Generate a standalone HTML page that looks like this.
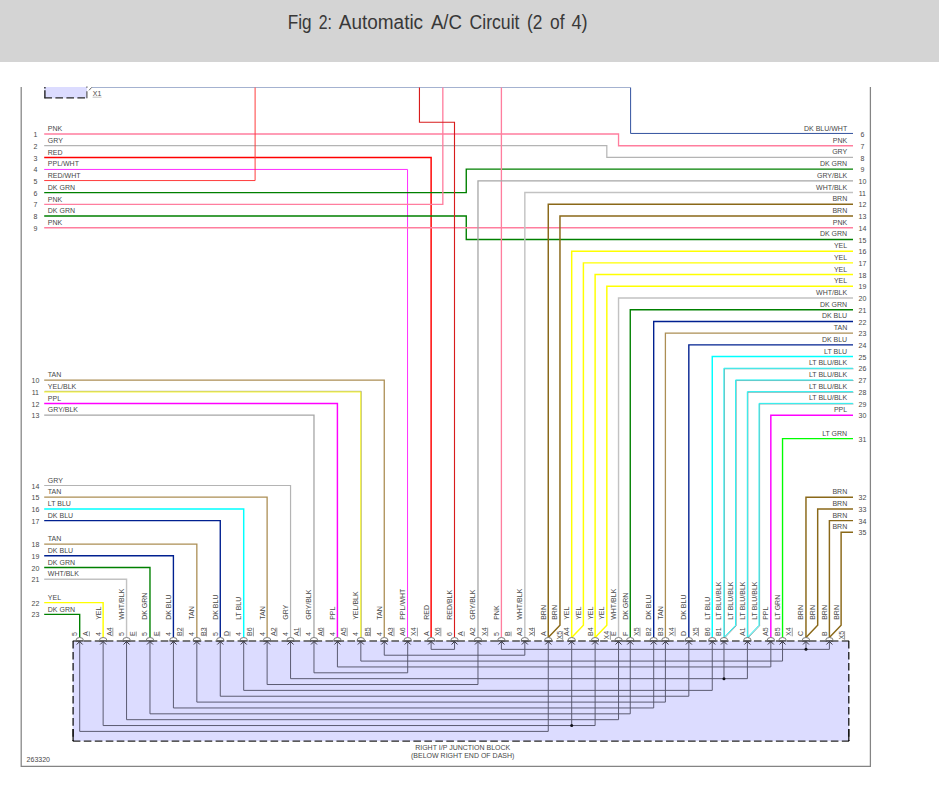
<!DOCTYPE html>
<html><head><meta charset="utf-8"><title>Fig 2: Automatic A/C Circuit (2 of 4)</title>
<style>
html,body{margin:0;padding:0;background:#fff;}
body{width:939px;height:795px;overflow:hidden;position:relative;font-family:"Liberation Sans",sans-serif;}
#hdr{position:absolute;left:0;top:0;width:939px;height:61.5px;background:#d4d4d4;}
#ttl{position:absolute;left:0;top:0;width:939px;text-align:center;}
svg{position:absolute;left:0;top:0;}
.t{font-family:"Liberation Sans",sans-serif;font-size:7px;fill:#484848;}
.h{font-family:"Liberation Sans",sans-serif;font-size:20px;fill:#383838;}
</style></head><body>
<div id="hdr"></div>
<svg width="939" height="795" viewBox="0 0 939 795">
<text y="29.0" class="h"><tspan x="287.7" textLength="23.8" lengthAdjust="spacingAndGlyphs">Fig</tspan><tspan x="318.8" textLength="13.2" lengthAdjust="spacingAndGlyphs">2:</tspan><tspan x="338.8" textLength="84.3" lengthAdjust="spacingAndGlyphs">Automatic</tspan><tspan x="430.9" textLength="31.1" lengthAdjust="spacingAndGlyphs">A/C</tspan><tspan x="469.5" textLength="50" lengthAdjust="spacingAndGlyphs">Circuit</tspan><tspan x="527.1" textLength="15.4" lengthAdjust="spacingAndGlyphs">(2</tspan><tspan x="550.1" textLength="14.5" lengthAdjust="spacingAndGlyphs">of</tspan><tspan x="571.4" textLength="16.2" lengthAdjust="spacingAndGlyphs">4)</tspan></text>
<!-- frame -->
<path d="M21.2 87.0V766.3H870.4V87.0" fill="none" stroke="#848484" stroke-width="1.25"/>
<path d="M91.8 87.5H630.26" stroke="#a4b2d0" stroke-width="1" fill="none"/>
<!-- top small box -->
<rect x="44.4" y="87" width="42.6" height="11.3" fill="#dcdcff"/>
<path d="M44.9 87V98.3" stroke="#141414" stroke-width="1.3" stroke-dasharray="1.6 1.6 20" fill="none"/>
<path d="M44.4 97.8H87" stroke="#2a2a2a" stroke-width="1.3" stroke-dasharray="7.6 3.4" fill="none"/>
<path d="M86.9 86.6V98.3" stroke="#5a5a5a" stroke-width="1.2" stroke-dasharray="1.2 3.4 20" fill="none"/>
<path d="M89 90.3L91.8 87.3" stroke="#555" stroke-width="0.9" fill="none"/>
<text x="92.8" y="95.9" class="t">X1</text>
<path d="M92.6 97.2H101.6" stroke="#b8b8b8" stroke-width="0.9"/>
<!-- junction block -->
<rect x="72.8" y="640.9" width="776.3" height="100.2" fill="#dcdcff"/>
<path d="M79.7 640.9V731.4H548.26V640.9" stroke="#54546a" stroke-width="0.95" fill="none"/>
<path d="M103.13 640.9V725.54H571.69V640.9" stroke="#54546a" stroke-width="0.95" fill="none"/>
<path d="M126.56 640.9V719.68H618.54V640.9" stroke="#54546a" stroke-width="0.95" fill="none"/>
<path d="M149.98 640.9V713.82H630.26V640.9" stroke="#54546a" stroke-width="0.95" fill="none"/>
<path d="M173.41 640.9V707.96H653.69V640.9" stroke="#54546a" stroke-width="0.95" fill="none"/>
<path d="M196.84 640.9V702.1H665.4V640.9" stroke="#54546a" stroke-width="0.95" fill="none"/>
<path d="M220.27 640.9V696.24H688.83V640.9" stroke="#54546a" stroke-width="0.95" fill="none"/>
<path d="M243.7 640.9V690.38H712.26V640.9" stroke="#54546a" stroke-width="0.95" fill="none"/>
<path d="M267.12 640.9V684.52H477.98V640.9" stroke="#54546a" stroke-width="0.95" fill="none"/>
<path d="M290.55 640.9V678.66H723.97V640.9" stroke="#54546a" stroke-width="0.95" fill="none"/>
<path d="M313.98 640.9V672.8H407.69V640.9" stroke="#54546a" stroke-width="0.95" fill="none"/>
<path d="M337.41 640.9V666.94H770.83V640.9" stroke="#54546a" stroke-width="0.95" fill="none"/>
<path d="M360.84 640.9V661.08H782.54V640.9" stroke="#54546a" stroke-width="0.95" fill="none"/>
<path d="M384.26 640.9V655.22H524.83V640.9" stroke="#54546a" stroke-width="0.95" fill="none"/>
<path d="M431.12 640.9V649.36H454.55V640.9" stroke="#54546a" stroke-width="0.95" fill="none"/>
<path d="M501.4 640.9V649.36H805.97V640.9" stroke="#54546a" stroke-width="0.95" fill="none"/>
<path d="M571.69 725.54H595.12V640.9" stroke="#54546a" stroke-width="0.95" fill="none"/>
<circle cx="571.69" cy="725.54" r="1.5" fill="#101018"/>
<path d="M723.97 678.66H747.4V640.9" stroke="#54546a" stroke-width="0.95" fill="none"/>
<circle cx="723.97" cy="678.66" r="1.5" fill="#101018"/>
<path d="M805.97 649.36H829.4V640.9" stroke="#54546a" stroke-width="0.95" fill="none"/>
<circle cx="805.97" cy="649.36" r="1.5" fill="#101018"/>
<path d="M72.8 640.9H849.1" stroke="#505050" stroke-width="1.5" stroke-dasharray="7.6 3.386" fill="none"/>
<path d="M72.8 741.1H849.1" stroke="#242424" stroke-width="1.35" stroke-dasharray="7.6 3.386" fill="none"/>
<path d="M73.1 640.9V741.1" stroke="#101010" stroke-width="1.25" stroke-dasharray="7.6 3.42" fill="none"/>
<path d="M848.8000000000001 640.9V741.1" stroke="#101010" stroke-width="1.25" stroke-dasharray="7.6 3.42" fill="none"/>
<path d="M73.1 729.1V741.1M848.8000000000001 729.1V741.1" stroke="#101010" stroke-width="1.25" fill="none"/>
<!-- wires -->
<path d="M44.2 134.0H618.54V145.72H853.0" stroke="#ff7e9e" stroke-width="1.33" fill="none" />
<path d="M44.2 145.72H606.83V157.43H853.0" stroke="#b4b4b4" stroke-width="1.2" fill="none" />
<path d="M44.2 157.43H431.12V637.6" stroke="#ff0000" stroke-width="1.46" fill="none" />
<path d="M44.2 169.45H407.55V637.6" stroke="#ff2cff" stroke-width="0.99" fill="none" />
<path d="M44.2 180.55H255.1V87.5" stroke="#ff3a3a" stroke-width="0.99" fill="none" />
<path d="M44.2 192.58H466.26V169.15H853.0" stroke="#008000" stroke-width="1.38" fill="none" />
<path d="M44.2 204.3H442.83V87.5" stroke="#ff7e9e" stroke-width="1.33" fill="none" />
<path d="M44.2 216.01H466.26V239.44H853.0" stroke="#008000" stroke-width="1.38" fill="none" />
<path d="M44.2 227.73H853.0" stroke="#ff7e9e" stroke-width="1.33" fill="none" />
<path d="M419.45 87.5V122.2H454.5V637.6" stroke="#d81c1c" stroke-width="1.12" fill="none" />
<path d="M501.4 87.5V637.6" stroke="#ff7e9e" stroke-width="1.33" fill="none" />
<path d="M630.6 87.5V133.45H853.0" stroke="#30509e" stroke-width="0.99" fill="none" />
<path d="M853.0 180.86H477.98V637.6" stroke="#a6a6a6" stroke-width="1.29" fill="none" />
<path d="M853.0 192.58H524.83V637.6" stroke="#c2c2c2" stroke-width="1.42" fill="none" />
<path d="M853.0 204.3H548.26V637.6" stroke="#8a6818" stroke-width="1.46" fill="none" />
<path d="M853.0 216.01H559.97V625.3L548.26 637.6" stroke="#8a6818" stroke-width="1.46" fill="none" />
<path d="M853.0 251.16H571.69V637.6" stroke="#ffff00" stroke-width="1.46" fill="none" />
<path d="M853.0 262.88H583.4V625.3L571.69 637.6" stroke="#ffff00" stroke-width="1.46" fill="none" />
<path d="M853.0 274.59H595.12V637.6" stroke="#ffff00" stroke-width="1.46" fill="none" />
<path d="M853.0 286.31H606.83V625.3L595.12 637.6" stroke="#ffff00" stroke-width="1.46" fill="none" />
<path d="M853.0 298.02H618.54V637.6" stroke="#c2c2c2" stroke-width="1.42" fill="none" />
<path d="M853.0 309.74H630.26V637.6" stroke="#008000" stroke-width="1.38" fill="none" />
<path d="M853.0 321.46H653.69V637.6" stroke="#002090" stroke-width="1.38" fill="none" />
<path d="M853.0 333.17H665.4V637.6" stroke="#ac8e54" stroke-width="1.29" fill="none" />
<path d="M853.0 344.89H688.83V637.6" stroke="#002090" stroke-width="1.38" fill="none" />
<path d="M853.0 356.6H712.26V637.6" stroke="#00ffff" stroke-width="1.46" fill="none" />
<path d="M853.0 368.32H723.97V637.6" stroke="#5c8c8c" stroke-width="0.7" fill="none" transform="translate(0.5 0.5)"/>
<path d="M853.0 368.32H723.97V637.6" stroke="#24f2f2" stroke-width="1.0" fill="none" transform="translate(-0.1 -0.1)"/>
<path d="M853.0 380.04H735.68V625.3L723.97 637.6" stroke="#5c8c8c" stroke-width="0.7" fill="none" transform="translate(0.5 0.5)"/>
<path d="M853.0 380.04H735.68V625.3L723.97 637.6" stroke="#24f2f2" stroke-width="1.0" fill="none" transform="translate(-0.1 -0.1)"/>
<path d="M853.0 391.75H747.4V637.6" stroke="#5c8c8c" stroke-width="0.7" fill="none" transform="translate(0.5 0.5)"/>
<path d="M853.0 391.75H747.4V637.6" stroke="#24f2f2" stroke-width="1.0" fill="none" transform="translate(-0.1 -0.1)"/>
<path d="M853.0 403.47H759.11V625.3L747.4 637.6" stroke="#5c8c8c" stroke-width="0.7" fill="none" transform="translate(0.5 0.5)"/>
<path d="M853.0 403.47H759.11V625.3L747.4 637.6" stroke="#24f2f2" stroke-width="1.0" fill="none" transform="translate(-0.1 -0.1)"/>
<path d="M853.0 415.18H770.83V637.6" stroke="#ff00ff" stroke-width="1.46" fill="none" />
<path d="M853.0 438.62H782.54V637.6" stroke="#00ff00" stroke-width="1.38" fill="none" />
<path d="M853.0 497.2H805.97V637.6" stroke="#8a6818" stroke-width="1.46" fill="none" />
<path d="M853.0 508.91H817.68V625.3L805.97 637.6" stroke="#8a6818" stroke-width="1.46" fill="none" />
<path d="M853.0 520.63H829.4V637.6" stroke="#8a6818" stroke-width="1.46" fill="none" />
<path d="M853.0 532.34H841.11V625.3L829.4 637.6" stroke="#8a6818" stroke-width="1.46" fill="none" />
<path d="M44.2 380.04H384.26V637.6" stroke="#ac8e54" stroke-width="1.29" fill="none" />
<path d="M44.2 391.75H360.84V637.6" stroke="#8c8c6c" stroke-width="0.7" fill="none" transform="translate(0.45 -0.45)"/>
<path d="M44.2 391.75H360.84V637.6" stroke="#f6f614" stroke-width="0.95" fill="none" transform="translate(-0.1 0.2)"/>
<path d="M44.2 403.47H337.41V637.6" stroke="#ff00ff" stroke-width="1.46" fill="none" />
<path d="M44.2 415.18H313.98V637.6" stroke="#a6a6a6" stroke-width="1.29" fill="none" />
<path d="M44.2 485.48H290.55V637.6" stroke="#b4b4b4" stroke-width="1.2" fill="none" />
<path d="M44.2 497.2H267.12V637.6" stroke="#ac8e54" stroke-width="1.29" fill="none" />
<path d="M44.2 508.91H243.7V637.6" stroke="#00ffff" stroke-width="1.46" fill="none" />
<path d="M44.2 520.63H220.27V637.6" stroke="#002090" stroke-width="1.38" fill="none" />
<path d="M44.2 544.06H196.84V637.6" stroke="#ac8e54" stroke-width="1.29" fill="none" />
<path d="M44.2 555.78H173.41V637.6" stroke="#002090" stroke-width="1.38" fill="none" />
<path d="M44.2 567.49H149.98V637.6" stroke="#008000" stroke-width="1.38" fill="none" />
<path d="M44.2 579.21H126.56V637.6" stroke="#c2c2c2" stroke-width="1.42" fill="none" />
<path d="M44.2 602.64H103.13V637.6" stroke="#ffff00" stroke-width="1.46" fill="none" />
<path d="M44.2 614.36H79.7V637.6" stroke="#008000" stroke-width="1.38" fill="none" />
<path d="M75.9 640.9A3.8 3.2 0 0 1 83.5 640.9Z" fill="#fff" stroke="none"/>
<path d="M75.8 640.9H83.6" fill="none" stroke="#484848" stroke-width="1.5"/>
<path d="M75.9 640.5A3.8 3.0 0 0 1 83.5 640.5" fill="none" stroke="#747474" stroke-width="0.95"/>
<path d="M76.7 644.5L79.7 641.5L82.7 644.5" fill="none" stroke="#34343e" stroke-width="1"/>
<path d="M99.33 640.9A3.8 3.2 0 0 1 106.93 640.9Z" fill="#fff" stroke="none"/>
<path d="M99.23 640.9H107.03" fill="none" stroke="#484848" stroke-width="1.5"/>
<path d="M99.33 640.5A3.8 3.0 0 0 1 106.93 640.5" fill="none" stroke="#747474" stroke-width="0.95"/>
<path d="M100.13 644.5L103.13 641.5L106.13 644.5" fill="none" stroke="#34343e" stroke-width="1"/>
<path d="M122.76 640.9A3.8 3.2 0 0 1 130.36 640.9Z" fill="#fff" stroke="none"/>
<path d="M122.66 640.9H130.46" fill="none" stroke="#484848" stroke-width="1.5"/>
<path d="M122.76 640.5A3.8 3.0 0 0 1 130.36 640.5" fill="none" stroke="#747474" stroke-width="0.95"/>
<path d="M123.56 644.5L126.56 641.5L129.56 644.5" fill="none" stroke="#34343e" stroke-width="1"/>
<path d="M146.18 640.9A3.8 3.2 0 0 1 153.78 640.9Z" fill="#fff" stroke="none"/>
<path d="M146.08 640.9H153.88" fill="none" stroke="#484848" stroke-width="1.5"/>
<path d="M146.18 640.5A3.8 3.0 0 0 1 153.78 640.5" fill="none" stroke="#747474" stroke-width="0.95"/>
<path d="M146.98 644.5L149.98 641.5L152.98 644.5" fill="none" stroke="#34343e" stroke-width="1"/>
<path d="M169.61 640.9A3.8 3.2 0 0 1 177.21 640.9Z" fill="#fff" stroke="none"/>
<path d="M169.51 640.9H177.31" fill="none" stroke="#484848" stroke-width="1.5"/>
<path d="M169.61 640.5A3.8 3.0 0 0 1 177.21 640.5" fill="none" stroke="#747474" stroke-width="0.95"/>
<path d="M170.41 644.5L173.41 641.5L176.41 644.5" fill="none" stroke="#34343e" stroke-width="1"/>
<path d="M193.04 640.9A3.8 3.2 0 0 1 200.64 640.9Z" fill="#fff" stroke="none"/>
<path d="M192.94 640.9H200.74" fill="none" stroke="#484848" stroke-width="1.5"/>
<path d="M193.04 640.5A3.8 3.0 0 0 1 200.64 640.5" fill="none" stroke="#747474" stroke-width="0.95"/>
<path d="M193.84 644.5L196.84 641.5L199.84 644.5" fill="none" stroke="#34343e" stroke-width="1"/>
<path d="M216.47 640.9A3.8 3.2 0 0 1 224.07 640.9Z" fill="#fff" stroke="none"/>
<path d="M216.37 640.9H224.17" fill="none" stroke="#484848" stroke-width="1.5"/>
<path d="M216.47 640.5A3.8 3.0 0 0 1 224.07 640.5" fill="none" stroke="#747474" stroke-width="0.95"/>
<path d="M217.27 644.5L220.27 641.5L223.27 644.5" fill="none" stroke="#34343e" stroke-width="1"/>
<path d="M239.9 640.9A3.8 3.2 0 0 1 247.5 640.9Z" fill="#fff" stroke="none"/>
<path d="M239.8 640.9H247.6" fill="none" stroke="#484848" stroke-width="1.5"/>
<path d="M239.9 640.5A3.8 3.0 0 0 1 247.5 640.5" fill="none" stroke="#747474" stroke-width="0.95"/>
<path d="M240.7 644.5L243.7 641.5L246.7 644.5" fill="none" stroke="#34343e" stroke-width="1"/>
<path d="M263.32 640.9A3.8 3.2 0 0 1 270.92 640.9Z" fill="#fff" stroke="none"/>
<path d="M263.22 640.9H271.02" fill="none" stroke="#484848" stroke-width="1.5"/>
<path d="M263.32 640.5A3.8 3.0 0 0 1 270.92 640.5" fill="none" stroke="#747474" stroke-width="0.95"/>
<path d="M264.12 644.5L267.12 641.5L270.12 644.5" fill="none" stroke="#34343e" stroke-width="1"/>
<path d="M286.75 640.9A3.8 3.2 0 0 1 294.35 640.9Z" fill="#fff" stroke="none"/>
<path d="M286.65 640.9H294.45" fill="none" stroke="#484848" stroke-width="1.5"/>
<path d="M286.75 640.5A3.8 3.0 0 0 1 294.35 640.5" fill="none" stroke="#747474" stroke-width="0.95"/>
<path d="M287.55 644.5L290.55 641.5L293.55 644.5" fill="none" stroke="#34343e" stroke-width="1"/>
<path d="M310.18 640.9A3.8 3.2 0 0 1 317.78 640.9Z" fill="#fff" stroke="none"/>
<path d="M310.08 640.9H317.88" fill="none" stroke="#484848" stroke-width="1.5"/>
<path d="M310.18 640.5A3.8 3.0 0 0 1 317.78 640.5" fill="none" stroke="#747474" stroke-width="0.95"/>
<path d="M310.98 644.5L313.98 641.5L316.98 644.5" fill="none" stroke="#34343e" stroke-width="1"/>
<path d="M333.61 640.9A3.8 3.2 0 0 1 341.21 640.9Z" fill="#fff" stroke="none"/>
<path d="M333.51 640.9H341.31" fill="none" stroke="#484848" stroke-width="1.5"/>
<path d="M333.61 640.5A3.8 3.0 0 0 1 341.21 640.5" fill="none" stroke="#747474" stroke-width="0.95"/>
<path d="M334.41 644.5L337.41 641.5L340.41 644.5" fill="none" stroke="#34343e" stroke-width="1"/>
<path d="M357.04 640.9A3.8 3.2 0 0 1 364.64 640.9Z" fill="#fff" stroke="none"/>
<path d="M356.94 640.9H364.74" fill="none" stroke="#484848" stroke-width="1.5"/>
<path d="M357.04 640.5A3.8 3.0 0 0 1 364.64 640.5" fill="none" stroke="#747474" stroke-width="0.95"/>
<path d="M357.84 644.5L360.84 641.5L363.84 644.5" fill="none" stroke="#34343e" stroke-width="1"/>
<path d="M380.46 640.9A3.8 3.2 0 0 1 388.06 640.9Z" fill="#fff" stroke="none"/>
<path d="M380.36 640.9H388.16" fill="none" stroke="#484848" stroke-width="1.5"/>
<path d="M380.46 640.5A3.8 3.0 0 0 1 388.06 640.5" fill="none" stroke="#747474" stroke-width="0.95"/>
<path d="M381.26 644.5L384.26 641.5L387.26 644.5" fill="none" stroke="#34343e" stroke-width="1"/>
<path d="M403.89 640.9A3.8 3.2 0 0 1 411.49 640.9Z" fill="#fff" stroke="none"/>
<path d="M403.79 640.9H411.59" fill="none" stroke="#484848" stroke-width="1.5"/>
<path d="M403.89 640.5A3.8 3.0 0 0 1 411.49 640.5" fill="none" stroke="#747474" stroke-width="0.95"/>
<path d="M404.69 644.5L407.69 641.5L410.69 644.5" fill="none" stroke="#34343e" stroke-width="1"/>
<path d="M427.32 640.9A3.8 3.2 0 0 1 434.92 640.9Z" fill="#fff" stroke="none"/>
<path d="M427.22 640.9H435.02" fill="none" stroke="#484848" stroke-width="1.5"/>
<path d="M427.32 640.5A3.8 3.0 0 0 1 434.92 640.5" fill="none" stroke="#747474" stroke-width="0.95"/>
<path d="M428.12 644.5L431.12 641.5L434.12 644.5" fill="none" stroke="#34343e" stroke-width="1"/>
<path d="M450.75 640.9A3.8 3.2 0 0 1 458.35 640.9Z" fill="#fff" stroke="none"/>
<path d="M450.65 640.9H458.45" fill="none" stroke="#484848" stroke-width="1.5"/>
<path d="M450.75 640.5A3.8 3.0 0 0 1 458.35 640.5" fill="none" stroke="#747474" stroke-width="0.95"/>
<path d="M451.55 644.5L454.55 641.5L457.55 644.5" fill="none" stroke="#34343e" stroke-width="1"/>
<path d="M474.18 640.9A3.8 3.2 0 0 1 481.78 640.9Z" fill="#fff" stroke="none"/>
<path d="M474.08 640.9H481.88" fill="none" stroke="#484848" stroke-width="1.5"/>
<path d="M474.18 640.5A3.8 3.0 0 0 1 481.78 640.5" fill="none" stroke="#747474" stroke-width="0.95"/>
<path d="M474.98 644.5L477.98 641.5L480.98 644.5" fill="none" stroke="#34343e" stroke-width="1"/>
<path d="M497.6 640.9A3.8 3.2 0 0 1 505.2 640.9Z" fill="#fff" stroke="none"/>
<path d="M497.5 640.9H505.3" fill="none" stroke="#484848" stroke-width="1.5"/>
<path d="M497.6 640.5A3.8 3.0 0 0 1 505.2 640.5" fill="none" stroke="#747474" stroke-width="0.95"/>
<path d="M498.4 644.5L501.4 641.5L504.4 644.5" fill="none" stroke="#34343e" stroke-width="1"/>
<path d="M521.03 640.9A3.8 3.2 0 0 1 528.63 640.9Z" fill="#fff" stroke="none"/>
<path d="M520.93 640.9H528.73" fill="none" stroke="#484848" stroke-width="1.5"/>
<path d="M521.03 640.5A3.8 3.0 0 0 1 528.63 640.5" fill="none" stroke="#747474" stroke-width="0.95"/>
<path d="M521.83 644.5L524.83 641.5L527.83 644.5" fill="none" stroke="#34343e" stroke-width="1"/>
<path d="M544.46 640.9A3.8 3.2 0 0 1 552.06 640.9Z" fill="#fff" stroke="none"/>
<path d="M544.36 640.9H552.16" fill="none" stroke="#484848" stroke-width="1.5"/>
<path d="M544.46 640.5A3.8 3.0 0 0 1 552.06 640.5" fill="none" stroke="#747474" stroke-width="0.95"/>
<path d="M545.26 644.5L548.26 641.5L551.26 644.5" fill="none" stroke="#34343e" stroke-width="1"/>
<path d="M567.89 640.9A3.8 3.2 0 0 1 575.49 640.9Z" fill="#fff" stroke="none"/>
<path d="M567.79 640.9H575.59" fill="none" stroke="#484848" stroke-width="1.5"/>
<path d="M567.89 640.5A3.8 3.0 0 0 1 575.49 640.5" fill="none" stroke="#747474" stroke-width="0.95"/>
<path d="M568.69 644.5L571.69 641.5L574.69 644.5" fill="none" stroke="#34343e" stroke-width="1"/>
<path d="M591.32 640.9A3.8 3.2 0 0 1 598.92 640.9Z" fill="#fff" stroke="none"/>
<path d="M591.22 640.9H599.02" fill="none" stroke="#484848" stroke-width="1.5"/>
<path d="M591.32 640.5A3.8 3.0 0 0 1 598.92 640.5" fill="none" stroke="#747474" stroke-width="0.95"/>
<path d="M592.12 644.5L595.12 641.5L598.12 644.5" fill="none" stroke="#34343e" stroke-width="1"/>
<path d="M614.74 640.9A3.8 3.2 0 0 1 622.34 640.9Z" fill="#fff" stroke="none"/>
<path d="M614.64 640.9H622.44" fill="none" stroke="#484848" stroke-width="1.5"/>
<path d="M614.74 640.5A3.8 3.0 0 0 1 622.34 640.5" fill="none" stroke="#747474" stroke-width="0.95"/>
<path d="M615.54 644.5L618.54 641.5L621.54 644.5" fill="none" stroke="#34343e" stroke-width="1"/>
<path d="M626.46 640.9A3.8 3.2 0 0 1 634.06 640.9Z" fill="#fff" stroke="none"/>
<path d="M626.36 640.9H634.16" fill="none" stroke="#484848" stroke-width="1.5"/>
<path d="M626.46 640.5A3.8 3.0 0 0 1 634.06 640.5" fill="none" stroke="#747474" stroke-width="0.95"/>
<path d="M627.26 644.5L630.26 641.5L633.26 644.5" fill="none" stroke="#34343e" stroke-width="1"/>
<path d="M649.89 640.9A3.8 3.2 0 0 1 657.49 640.9Z" fill="#fff" stroke="none"/>
<path d="M649.79 640.9H657.59" fill="none" stroke="#484848" stroke-width="1.5"/>
<path d="M649.89 640.5A3.8 3.0 0 0 1 657.49 640.5" fill="none" stroke="#747474" stroke-width="0.95"/>
<path d="M650.69 644.5L653.69 641.5L656.69 644.5" fill="none" stroke="#34343e" stroke-width="1"/>
<path d="M661.6 640.9A3.8 3.2 0 0 1 669.2 640.9Z" fill="#fff" stroke="none"/>
<path d="M661.5 640.9H669.3" fill="none" stroke="#484848" stroke-width="1.5"/>
<path d="M661.6 640.5A3.8 3.0 0 0 1 669.2 640.5" fill="none" stroke="#747474" stroke-width="0.95"/>
<path d="M662.4 644.5L665.4 641.5L668.4 644.5" fill="none" stroke="#34343e" stroke-width="1"/>
<path d="M685.03 640.9A3.8 3.2 0 0 1 692.63 640.9Z" fill="#fff" stroke="none"/>
<path d="M684.93 640.9H692.73" fill="none" stroke="#484848" stroke-width="1.5"/>
<path d="M685.03 640.5A3.8 3.0 0 0 1 692.63 640.5" fill="none" stroke="#747474" stroke-width="0.95"/>
<path d="M685.83 644.5L688.83 641.5L691.83 644.5" fill="none" stroke="#34343e" stroke-width="1"/>
<path d="M708.46 640.9A3.8 3.2 0 0 1 716.06 640.9Z" fill="#fff" stroke="none"/>
<path d="M708.36 640.9H716.16" fill="none" stroke="#484848" stroke-width="1.5"/>
<path d="M708.46 640.5A3.8 3.0 0 0 1 716.06 640.5" fill="none" stroke="#747474" stroke-width="0.95"/>
<path d="M709.26 644.5L712.26 641.5L715.26 644.5" fill="none" stroke="#34343e" stroke-width="1"/>
<path d="M720.17 640.9A3.8 3.2 0 0 1 727.77 640.9Z" fill="#fff" stroke="none"/>
<path d="M720.07 640.9H727.87" fill="none" stroke="#484848" stroke-width="1.5"/>
<path d="M720.17 640.5A3.8 3.0 0 0 1 727.77 640.5" fill="none" stroke="#747474" stroke-width="0.95"/>
<path d="M720.97 644.5L723.97 641.5L726.97 644.5" fill="none" stroke="#34343e" stroke-width="1"/>
<path d="M743.6 640.9A3.8 3.2 0 0 1 751.2 640.9Z" fill="#fff" stroke="none"/>
<path d="M743.5 640.9H751.3" fill="none" stroke="#484848" stroke-width="1.5"/>
<path d="M743.6 640.5A3.8 3.0 0 0 1 751.2 640.5" fill="none" stroke="#747474" stroke-width="0.95"/>
<path d="M744.4 644.5L747.4 641.5L750.4 644.5" fill="none" stroke="#34343e" stroke-width="1"/>
<path d="M767.03 640.9A3.8 3.2 0 0 1 774.63 640.9Z" fill="#fff" stroke="none"/>
<path d="M766.93 640.9H774.73" fill="none" stroke="#484848" stroke-width="1.5"/>
<path d="M767.03 640.5A3.8 3.0 0 0 1 774.63 640.5" fill="none" stroke="#747474" stroke-width="0.95"/>
<path d="M767.83 644.5L770.83 641.5L773.83 644.5" fill="none" stroke="#34343e" stroke-width="1"/>
<path d="M778.74 640.9A3.8 3.2 0 0 1 786.34 640.9Z" fill="#fff" stroke="none"/>
<path d="M778.64 640.9H786.44" fill="none" stroke="#484848" stroke-width="1.5"/>
<path d="M778.74 640.5A3.8 3.0 0 0 1 786.34 640.5" fill="none" stroke="#747474" stroke-width="0.95"/>
<path d="M779.54 644.5L782.54 641.5L785.54 644.5" fill="none" stroke="#34343e" stroke-width="1"/>
<path d="M802.17 640.9A3.8 3.2 0 0 1 809.77 640.9Z" fill="#fff" stroke="none"/>
<path d="M802.07 640.9H809.87" fill="none" stroke="#484848" stroke-width="1.5"/>
<path d="M802.17 640.5A3.8 3.0 0 0 1 809.77 640.5" fill="none" stroke="#747474" stroke-width="0.95"/>
<path d="M802.97 644.5L805.97 641.5L808.97 644.5" fill="none" stroke="#34343e" stroke-width="1"/>
<path d="M825.6 640.9A3.8 3.2 0 0 1 833.2 640.9Z" fill="#fff" stroke="none"/>
<path d="M825.5 640.9H833.3" fill="none" stroke="#484848" stroke-width="1.5"/>
<path d="M825.6 640.5A3.8 3.0 0 0 1 833.2 640.5" fill="none" stroke="#747474" stroke-width="0.95"/>
<path d="M826.4 644.5L829.4 641.5L832.4 644.5" fill="none" stroke="#34343e" stroke-width="1"/>
<text x="47.8" y="131" text-anchor="start" class="t" >PNK</text>
<text x="35.4" y="137" text-anchor="middle" class="t" >1</text>
<text x="47.8" y="143" text-anchor="start" class="t" >GRY</text>
<text x="35.4" y="149" text-anchor="middle" class="t" >2</text>
<text x="47.8" y="155" text-anchor="start" class="t" >RED</text>
<text x="35.4" y="161" text-anchor="middle" class="t" >3</text>
<text x="47.8" y="166" text-anchor="start" class="t" >PPL/WHT</text>
<text x="35.4" y="172" text-anchor="middle" class="t" >4</text>
<text x="47.8" y="178" text-anchor="start" class="t" >RED/WHT</text>
<text x="35.4" y="184" text-anchor="middle" class="t" >5</text>
<text x="47.8" y="190" text-anchor="start" class="t" >DK GRN</text>
<text x="35.4" y="196" text-anchor="middle" class="t" >6</text>
<text x="47.8" y="202" text-anchor="start" class="t" >PNK</text>
<text x="35.4" y="207" text-anchor="middle" class="t" >7</text>
<text x="47.8" y="213" text-anchor="start" class="t" >DK GRN</text>
<text x="35.4" y="219" text-anchor="middle" class="t" >8</text>
<text x="47.8" y="225" text-anchor="start" class="t" >PNK</text>
<text x="35.4" y="231" text-anchor="middle" class="t" >9</text>
<text x="47.8" y="377" text-anchor="start" class="t" >TAN</text>
<text x="35.4" y="383" text-anchor="middle" class="t" >10</text>
<text x="47.8" y="389" text-anchor="start" class="t" >YEL/BLK</text>
<text x="35.4" y="395" text-anchor="middle" class="t" >11</text>
<text x="47.8" y="401" text-anchor="start" class="t" >PPL</text>
<text x="35.4" y="407" text-anchor="middle" class="t" >12</text>
<text x="47.8" y="412" text-anchor="start" class="t" >GRY/BLK</text>
<text x="35.4" y="418" text-anchor="middle" class="t" >13</text>
<text x="47.8" y="483" text-anchor="start" class="t" >GRY</text>
<text x="35.4" y="489" text-anchor="middle" class="t" >14</text>
<text x="47.8" y="494" text-anchor="start" class="t" >TAN</text>
<text x="35.4" y="500" text-anchor="middle" class="t" >15</text>
<text x="47.8" y="506" text-anchor="start" class="t" >LT BLU</text>
<text x="35.4" y="512" text-anchor="middle" class="t" >16</text>
<text x="47.8" y="518" text-anchor="start" class="t" >DK BLU</text>
<text x="35.4" y="524" text-anchor="middle" class="t" >17</text>
<text x="47.8" y="541" text-anchor="start" class="t" >TAN</text>
<text x="35.4" y="547" text-anchor="middle" class="t" >18</text>
<text x="47.8" y="553" text-anchor="start" class="t" >DK BLU</text>
<text x="35.4" y="559" text-anchor="middle" class="t" >19</text>
<text x="47.8" y="565" text-anchor="start" class="t" >DK GRN</text>
<text x="35.4" y="571" text-anchor="middle" class="t" >20</text>
<text x="47.8" y="576" text-anchor="start" class="t" >WHT/BLK</text>
<text x="35.4" y="582" text-anchor="middle" class="t" >21</text>
<text x="47.8" y="600" text-anchor="start" class="t" >YEL</text>
<text x="35.4" y="606" text-anchor="middle" class="t" >22</text>
<text x="47.8" y="612" text-anchor="start" class="t" >DK GRN</text>
<text x="35.4" y="617" text-anchor="middle" class="t" >23</text>
<text x="847.2" y="143" text-anchor="end" class="t" >PNK</text>
<text x="862.4" y="149" text-anchor="middle" class="t" >7</text>
<text x="847.2" y="154" text-anchor="end" class="t" >GRY</text>
<text x="862.4" y="161" text-anchor="middle" class="t" >8</text>
<text x="847.2" y="166" text-anchor="end" class="t" >DK GRN</text>
<text x="862.4" y="172" text-anchor="middle" class="t" >9</text>
<text x="847.2" y="236" text-anchor="end" class="t" >DK GRN</text>
<text x="862.4" y="243" text-anchor="middle" class="t" >15</text>
<text x="847.2" y="225" text-anchor="end" class="t" >PNK</text>
<text x="862.4" y="231" text-anchor="middle" class="t" >14</text>
<text x="847.2" y="131" text-anchor="end" class="t" >DK BLU/WHT</text>
<text x="862.4" y="137" text-anchor="middle" class="t" >6</text>
<text x="847.2" y="178" text-anchor="end" class="t" >GRY/BLK</text>
<text x="862.4" y="184" text-anchor="middle" class="t" >10</text>
<text x="847.2" y="190" text-anchor="end" class="t" >WHT/BLK</text>
<text x="862.4" y="196" text-anchor="middle" class="t" >11</text>
<text x="847.2" y="201" text-anchor="end" class="t" >BRN</text>
<text x="862.4" y="207" text-anchor="middle" class="t" >12</text>
<text x="847.2" y="213" text-anchor="end" class="t" >BRN</text>
<text x="862.4" y="219" text-anchor="middle" class="t" >13</text>
<text x="847.2" y="248" text-anchor="end" class="t" >YEL</text>
<text x="862.4" y="254" text-anchor="middle" class="t" >16</text>
<text x="847.2" y="260" text-anchor="end" class="t" >YEL</text>
<text x="862.4" y="266" text-anchor="middle" class="t" >17</text>
<text x="847.2" y="272" text-anchor="end" class="t" >YEL</text>
<text x="862.4" y="278" text-anchor="middle" class="t" >18</text>
<text x="847.2" y="283" text-anchor="end" class="t" >YEL</text>
<text x="862.4" y="289" text-anchor="middle" class="t" >19</text>
<text x="847.2" y="295" text-anchor="end" class="t" >WHT/BLK</text>
<text x="862.4" y="301" text-anchor="middle" class="t" >20</text>
<text x="847.2" y="307" text-anchor="end" class="t" >DK GRN</text>
<text x="862.4" y="313" text-anchor="middle" class="t" >21</text>
<text x="847.2" y="318" text-anchor="end" class="t" >DK BLU</text>
<text x="862.4" y="325" text-anchor="middle" class="t" >22</text>
<text x="847.2" y="330" text-anchor="end" class="t" >TAN</text>
<text x="862.4" y="336" text-anchor="middle" class="t" >23</text>
<text x="847.2" y="342" text-anchor="end" class="t" >DK BLU</text>
<text x="862.4" y="348" text-anchor="middle" class="t" >24</text>
<text x="847.2" y="354" text-anchor="end" class="t" >LT BLU</text>
<text x="862.4" y="360" text-anchor="middle" class="t" >25</text>
<text x="847.2" y="365" text-anchor="end" class="t" >LT BLU/BLK</text>
<text x="862.4" y="371" text-anchor="middle" class="t" >26</text>
<text x="847.2" y="377" text-anchor="end" class="t" >LT BLU/BLK</text>
<text x="862.4" y="383" text-anchor="middle" class="t" >27</text>
<text x="847.2" y="389" text-anchor="end" class="t" >LT BLU/BLK</text>
<text x="862.4" y="395" text-anchor="middle" class="t" >28</text>
<text x="847.2" y="400" text-anchor="end" class="t" >LT BLU/BLK</text>
<text x="862.4" y="407" text-anchor="middle" class="t" >29</text>
<text x="847.2" y="412" text-anchor="end" class="t" >PPL</text>
<text x="862.4" y="418" text-anchor="middle" class="t" >30</text>
<text x="847.2" y="436" text-anchor="end" class="t" >LT GRN</text>
<text x="862.4" y="442" text-anchor="middle" class="t" >31</text>
<text x="847.2" y="494" text-anchor="end" class="t" >BRN</text>
<text x="862.4" y="500" text-anchor="middle" class="t" >32</text>
<text x="847.2" y="506" text-anchor="end" class="t" >BRN</text>
<text x="862.4" y="512" text-anchor="middle" class="t" >33</text>
<text x="847.2" y="518" text-anchor="end" class="t" >BRN</text>
<text x="862.4" y="524" text-anchor="middle" class="t" >34</text>
<text x="847.2" y="529" text-anchor="end" class="t" >BRN</text>
<text x="862.4" y="535" text-anchor="middle" class="t" >35</text>
<text transform="translate(100.63 619.8) rotate(-90)" class="t">YEL</text>
<text transform="translate(124.06 619.8) rotate(-90)" class="t">WHT/BLK</text>
<text transform="translate(147.48 619.8) rotate(-90)" class="t">DK GRN</text>
<text transform="translate(170.91 619.8) rotate(-90)" class="t">DK BLU</text>
<text transform="translate(194.34 619.8) rotate(-90)" class="t">TAN</text>
<text transform="translate(217.77 619.8) rotate(-90)" class="t">DK BLU</text>
<text transform="translate(241.2 619.8) rotate(-90)" class="t">LT BLU</text>
<text transform="translate(264.62 619.8) rotate(-90)" class="t">TAN</text>
<text transform="translate(288.05 619.8) rotate(-90)" class="t">GRY</text>
<text transform="translate(311.48 619.8) rotate(-90)" class="t">GRY/BLK</text>
<text transform="translate(334.91 619.8) rotate(-90)" class="t">PPL</text>
<text transform="translate(358.34 619.8) rotate(-90)" class="t">YEL/BLK</text>
<text transform="translate(381.76 619.8) rotate(-90)" class="t">TAN</text>
<text transform="translate(405.19 619.8) rotate(-90)" class="t">PPL/WHT</text>
<text transform="translate(428.62 619.8) rotate(-90)" class="t">RED</text>
<text transform="translate(452.05 619.8) rotate(-90)" class="t">RED/BLK</text>
<text transform="translate(475.48 619.8) rotate(-90)" class="t">GRY/BLK</text>
<text transform="translate(498.9 619.8) rotate(-90)" class="t">PNK</text>
<text transform="translate(522.33 619.8) rotate(-90)" class="t">WHT/BLK</text>
<text transform="translate(545.76 619.8) rotate(-90)" class="t">BRN</text>
<text transform="translate(557.47 619.8) rotate(-90)" class="t">BRN</text>
<text transform="translate(569.19 619.8) rotate(-90)" class="t">YEL</text>
<text transform="translate(580.9 619.8) rotate(-90)" class="t">YEL</text>
<text transform="translate(592.62 619.8) rotate(-90)" class="t">YEL</text>
<text transform="translate(604.33 619.8) rotate(-90)" class="t">YEL</text>
<text transform="translate(616.04 619.8) rotate(-90)" class="t">WHT/BLK</text>
<text transform="translate(627.76 619.8) rotate(-90)" class="t">DK GRN</text>
<text transform="translate(651.19 619.8) rotate(-90)" class="t">DK BLU</text>
<text transform="translate(662.9 619.8) rotate(-90)" class="t">TAN</text>
<text transform="translate(686.33 619.8) rotate(-90)" class="t">DK BLU</text>
<text transform="translate(709.76 619.8) rotate(-90)" class="t">LT BLU</text>
<text transform="translate(721.47 619.8) rotate(-90)" class="t">LT BLU/BLK</text>
<text transform="translate(733.18 619.8) rotate(-90)" class="t">LT BLU/BLK</text>
<text transform="translate(744.9 619.8) rotate(-90)" class="t">LT BLU/BLK</text>
<text transform="translate(756.61 619.8) rotate(-90)" class="t">LT BLU/BLK</text>
<text transform="translate(768.33 619.8) rotate(-90)" class="t">PPL</text>
<text transform="translate(780.04 619.8) rotate(-90)" class="t">LT GRN</text>
<text transform="translate(803.47 619.8) rotate(-90)" class="t">BRN</text>
<text transform="translate(815.18 619.8) rotate(-90)" class="t">BRN</text>
<text transform="translate(826.9 619.8) rotate(-90)" class="t">BRN</text>
<text transform="translate(838.61 619.8) rotate(-90)" class="t">BRN</text>
<text transform="translate(77.2 636.0) rotate(-90)" class="t">5</text>
<text transform="translate(88.4 636.0) rotate(-90)" class="t">A</text>
<path d="M89.4 636.3v-4.8" stroke="#9a9a9a" stroke-width="1"/>
<text transform="translate(100.63 636.0) rotate(-90)" class="t">4</text>
<text transform="translate(111.83 636.0) rotate(-90)" class="t">A4</text>
<path d="M112.83 636.3v-8.6" stroke="#9a9a9a" stroke-width="1"/>
<text transform="translate(124.06 636.0) rotate(-90)" class="t">5</text>
<text transform="translate(135.26 636.0) rotate(-90)" class="t">E</text>
<path d="M136.26 636.3v-4.8" stroke="#9a9a9a" stroke-width="1"/>
<text transform="translate(147.48 636.0) rotate(-90)" class="t">5</text>
<text transform="translate(158.68 636.0) rotate(-90)" class="t">E</text>
<path d="M159.68 636.3v-4.8" stroke="#9a9a9a" stroke-width="1"/>
<text transform="translate(170.91 636.0) rotate(-90)" class="t">4</text>
<text transform="translate(182.11 636.0) rotate(-90)" class="t">B2</text>
<path d="M183.11 636.3v-8.6" stroke="#9a9a9a" stroke-width="1"/>
<text transform="translate(194.34 636.0) rotate(-90)" class="t">4</text>
<text transform="translate(205.54 636.0) rotate(-90)" class="t">B3</text>
<path d="M206.54 636.3v-8.6" stroke="#9a9a9a" stroke-width="1"/>
<text transform="translate(217.77 636.0) rotate(-90)" class="t">5</text>
<text transform="translate(228.97 636.0) rotate(-90)" class="t">D</text>
<path d="M229.97 636.3v-4.8" stroke="#9a9a9a" stroke-width="1"/>
<text transform="translate(241.2 636.0) rotate(-90)" class="t">4</text>
<text transform="translate(252.4 636.0) rotate(-90)" class="t">B6</text>
<path d="M253.4 636.3v-8.6" stroke="#9a9a9a" stroke-width="1"/>
<text transform="translate(264.62 636.0) rotate(-90)" class="t">4</text>
<text transform="translate(275.82 636.0) rotate(-90)" class="t">A2</text>
<path d="M276.82 636.3v-8.6" stroke="#9a9a9a" stroke-width="1"/>
<text transform="translate(288.05 636.0) rotate(-90)" class="t">4</text>
<text transform="translate(299.25 636.0) rotate(-90)" class="t">A1</text>
<path d="M300.25 636.3v-8.6" stroke="#9a9a9a" stroke-width="1"/>
<text transform="translate(311.48 636.0) rotate(-90)" class="t">4</text>
<text transform="translate(322.68 636.0) rotate(-90)" class="t">A6</text>
<path d="M323.68 636.3v-8.6" stroke="#9a9a9a" stroke-width="1"/>
<text transform="translate(334.91 636.0) rotate(-90)" class="t">4</text>
<text transform="translate(346.11 636.0) rotate(-90)" class="t">A5</text>
<path d="M347.11 636.3v-8.6" stroke="#9a9a9a" stroke-width="1"/>
<text transform="translate(358.34 636.0) rotate(-90)" class="t">4</text>
<text transform="translate(369.54 636.0) rotate(-90)" class="t">B5</text>
<path d="M370.54 636.3v-8.6" stroke="#9a9a9a" stroke-width="1"/>
<text transform="translate(381.76 636.0) rotate(-90)" class="t">4</text>
<text transform="translate(392.96 636.0) rotate(-90)" class="t">A3</text>
<path d="M393.96 636.3v-8.6" stroke="#9a9a9a" stroke-width="1"/>
<text transform="translate(405.19 636.0) rotate(-90)" class="t">A6</text>
<text transform="translate(416.39 636.0) rotate(-90)" class="t">X4</text>
<path d="M417.39 636.3v-8.6" stroke="#9a9a9a" stroke-width="1"/>
<text transform="translate(428.62 636.0) rotate(-90)" class="t">A</text>
<text transform="translate(439.82 636.0) rotate(-90)" class="t">X6</text>
<path d="M440.82 636.3v-8.6" stroke="#9a9a9a" stroke-width="1"/>
<text transform="translate(452.05 636.0) rotate(-90)" class="t">6</text>
<text transform="translate(463.25 636.0) rotate(-90)" class="t">A</text>
<path d="M464.25 636.3v-4.8" stroke="#9a9a9a" stroke-width="1"/>
<text transform="translate(475.48 636.0) rotate(-90)" class="t">A2</text>
<text transform="translate(486.68 636.0) rotate(-90)" class="t">X4</text>
<path d="M487.68 636.3v-8.6" stroke="#9a9a9a" stroke-width="1"/>
<text transform="translate(498.9 636.0) rotate(-90)" class="t">5</text>
<text transform="translate(510.1 636.0) rotate(-90)" class="t">B</text>
<path d="M511.1 636.3v-4.8" stroke="#9a9a9a" stroke-width="1"/>
<text transform="translate(522.33 636.0) rotate(-90)" class="t">A3</text>
<text transform="translate(533.53 636.0) rotate(-90)" class="t">X4</text>
<path d="M534.53 636.3v-8.6" stroke="#9a9a9a" stroke-width="1"/>
<text transform="translate(545.76 636.0) rotate(-90)" class="t">A</text>
<text transform="translate(569.19 636.0) rotate(-90)" class="t">A4</text>
<text transform="translate(592.62 636.0) rotate(-90)" class="t">B4</text>
<text transform="translate(616.04 636.0) rotate(-90)" class="t">E</text>
<text transform="translate(627.76 636.0) rotate(-90)" class="t">F</text>
<text transform="translate(638.96 636.0) rotate(-90)" class="t">X5</text>
<path d="M639.96 636.3v-8.6" stroke="#9a9a9a" stroke-width="1"/>
<text transform="translate(651.19 636.0) rotate(-90)" class="t">B2</text>
<text transform="translate(662.9 636.0) rotate(-90)" class="t">B3</text>
<text transform="translate(674.1 636.0) rotate(-90)" class="t">X4</text>
<path d="M675.1 636.3v-8.6" stroke="#9a9a9a" stroke-width="1"/>
<text transform="translate(686.33 636.0) rotate(-90)" class="t">D</text>
<text transform="translate(697.53 636.0) rotate(-90)" class="t">X5</text>
<path d="M698.53 636.3v-8.6" stroke="#9a9a9a" stroke-width="1"/>
<text transform="translate(709.76 636.0) rotate(-90)" class="t">B6</text>
<text transform="translate(721.47 636.0) rotate(-90)" class="t">B1</text>
<text transform="translate(744.9 636.0) rotate(-90)" class="t">A1</text>
<text transform="translate(768.33 636.0) rotate(-90)" class="t">A5</text>
<text transform="translate(780.04 636.0) rotate(-90)" class="t">B5</text>
<text transform="translate(791.24 636.0) rotate(-90)" class="t">X4</text>
<path d="M792.24 636.3v-8.6" stroke="#9a9a9a" stroke-width="1"/>
<text transform="translate(803.47 636.0) rotate(-90)" class="t">C</text>
<text transform="translate(826.9 636.0) rotate(-90)" class="t">B</text>
<text transform="translate(561.68 639.5) rotate(-90)" class="t">X5</text>
<path d="M562.68 639.8v-8.6" stroke="#9a9a9a" stroke-width="1"/>
<text transform="translate(609.34 639.5) rotate(-90)" class="t">X4</text>
<path d="M610.34 639.8v-8.6" stroke="#9a9a9a" stroke-width="1"/>
<text transform="translate(843.62 639.5) rotate(-90)" class="t">X5</text>
<path d="M844.62 639.8v-8.6" stroke="#9a9a9a" stroke-width="1"/>
<text x="462.7" y="750.0" text-anchor="middle" class="t">RIGHT I/P JUNCTION BLOCK</text>
<text x="462.7" y="757.9" text-anchor="middle" class="t">(BELOW RIGHT END OF DASH)</text>
<text x="26.6" y="762.2" class="t">263320</text>
</svg>
</body></html>
